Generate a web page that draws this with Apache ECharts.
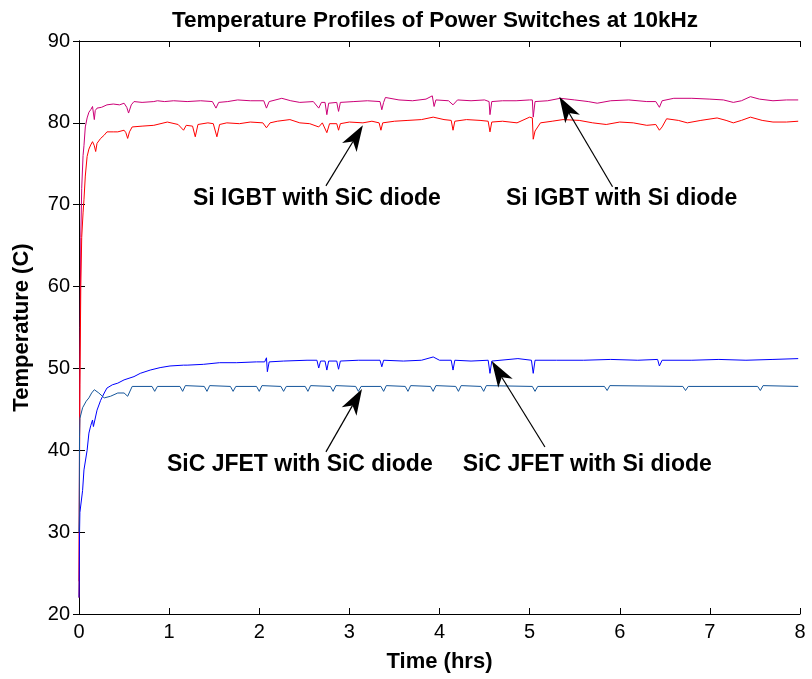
<!DOCTYPE html>
<html><head><meta charset="utf-8">
<script src="https://cdn.jsdelivr.net/npm/echarts@6/dist/echarts.min.js"></script>
<style>html,body{margin:0;padding:0;background:#fff}#c{width:812px;height:679px}</style>
</head><body><div id="c"></div>
<script>
const titleText = 'Temperature Profiles of Power Switches at 10kHz';
const xName = 'Time (hrs)';
const yName = 'Temperature (C)';
const xTicks = [0,1,2,3,4,5,6,7,8];
const yTicks = [20,30,40,50,60,70,80,90];

const seriesNames = ['Si IGBT with Si diode','Si IGBT with SiC diode','SiC JFET with Si diode','SiC JFET with SiC diode'];

const igbtSi = [[0,24],[0.005,40],[0.01,52],[0.02,66],[0.03,72],[0.045,76],[0.055,77.2],[0.07,79.5],[0.09,80.6],[0.11,81.3],[0.13,81.6],[0.15,82],[0.16,81.2],[0.17,80.4],[0.18,81.5],[0.2,81.8],[0.25,81.9],[0.31,82.2],[0.38,82.3],[0.45,82.2],[0.5,82.4],[0.53,81.9],[0.55,81.2],[0.58,82.2],[0.61,82.6],[0.7,82.5],[0.83,82.6],[0.87,82.7],[0.95,82.6],[1.05,82.7],[1.2,82.6],[1.35,82.7],[1.48,82.6],[1.52,81.8],[1.55,82.5],[1.65,82.6],[1.76,82.8],[1.9,82.7],[2.05,82.7],[2.08,81.8],[2.11,82.6],[2.25,83.0],[2.35,82.7],[2.45,82.5],[2.6,82.6],[2.66,81.8],[2.69,82.5],[2.73,82.5],[2.75,81.0],[2.77,82.4],[2.86,82.5],[2.88,81.4],[2.9,82.5],[3.05,82.6],[3.2,82.7],[3.34,82.6],[3.36,81.6],[3.38,82.5],[3.4,83.1],[3.55,82.8],[3.7,82.7],[3.85,82.9],[3.92,83.3],[3.94,82.0],[3.96,82.8],[4.1,82.7],[4.15,82.2],[4.2,82.8],[4.35,82.7],[4.5,82.8],[4.55,82.6],[4.56,81.0],[4.58,82.6],[4.7,82.7],[4.85,82.7],[5.0,82.8],[5.03,82.8],[5.04,80.7],[5.06,82.6],[5.2,82.7],[5.34,83.0],[5.5,82.8],[5.65,82.6],[5.75,82.4],[5.9,82.7],[6.1,82.8],[6.3,82.6],[6.4,82.6],[6.44,81.9],[6.47,82.7],[6.6,83.0],[6.8,83.0],[7.0,82.9],[7.15,82.8],[7.26,82.5],[7.35,82.7],[7.45,83.2],[7.55,82.9],[7.7,82.7],[7.85,82.8],[7.98,82.8]];

const igbtSiC = [[0,22],[0.005,35],[0.01,48],[0.02,60],[0.03,66],[0.045,69],[0.055,70.6],[0.07,73.5],[0.09,75.9],[0.11,76.8],[0.13,77.3],[0.15,77.7],[0.17,77.2],[0.185,76.5],[0.2,77.5],[0.24,78.1],[0.28,78.5],[0.31,78.9],[0.38,78.9],[0.43,78.9],[0.5,79.1],[0.52,78.8],[0.54,78.1],[0.56,78.9],[0.59,79.5],[0.7,79.6],[0.83,79.7],[0.98,80.1],[1.1,79.8],[1.16,79.1],[1.19,79.7],[1.26,79.6],[1.29,78.3],[1.32,79.8],[1.43,80.0],[1.49,79.9],[1.53,78.3],[1.56,79.8],[1.64,80.0],[1.78,79.9],[1.9,80.1],[2.04,80.0],[2.08,79.4],[2.12,80.0],[2.2,80.2],[2.34,80.4],[2.45,80.0],[2.56,79.9],[2.66,79.5],[2.7,80.0],[2.75,78.8],[2.78,79.9],[2.86,79.9],[2.88,79.1],[2.9,79.9],[3.0,80.1],[3.15,80.0],[3.25,80.2],[3.33,80.0],[3.35,79.1],[3.37,80.0],[3.5,80.2],[3.65,80.3],[3.8,80.4],[3.93,80.7],[4.05,80.4],[4.13,80.3],[4.15,79.1],[4.17,80.2],[4.3,80.4],[4.45,80.3],[4.54,80.2],[4.56,78.9],[4.58,80.1],[4.7,80.2],[4.86,80.0],[5.0,80.7],[5.03,80.6],[5.04,78.0],[5.06,79.0],[5.12,80.0],[5.25,80.2],[5.37,80.4],[5.55,80.3],[5.7,80.0],[5.85,79.8],[6.0,80.1],[6.15,80.0],[6.3,79.7],[6.4,79.8],[6.44,79.1],[6.47,79.5],[6.52,80.5],[6.65,80.3],[6.75,80.0],[6.9,80.3],[7.08,80.6],[7.18,80.3],[7.26,80.0],[7.35,80.3],[7.45,80.7],[7.58,80.3],[7.7,80.1],[7.85,80.1],[7.98,80.2]];

const jfetSi = [[0,22],[0.003,24.4],[0.006,30],[0.01,32.4],[0.04,35.1],[0.055,37.6],[0.09,40],[0.11,42.1],[0.13,43.0],[0.15,43.7],[0.16,42.9],[0.2,44.9],[0.24,46.1],[0.28,47],[0.31,47.6],[0.37,48.0],[0.43,48.2],[0.5,48.6],[0.61,49.0],[0.68,49.4],[0.79,49.8],[0.9,50.1],[1.01,50.3],[1.16,50.4],[1.2,50.4],[1.38,50.5],[1.56,50.7],[1.75,50.7],[1.97,50.8],[2.06,50.8],[2.08,51.3],[2.09,49.6],[2.11,50.8],[2.27,50.9],[2.53,51.0],[2.64,51.0],[2.66,50.05],[2.68,50.9],[2.73,50.9],[2.75,49.8],[2.77,50.9],[2.86,50.9],[2.88,49.9],[2.9,50.9],[3.1,51.0],[3.34,51.0],[3.36,50.2],[3.38,51.0],[3.6,50.9],[3.8,51.0],[3.93,51.4],[4.0,51.0],[4.13,51.0],[4.15,49.8],[4.17,51.0],[4.35,50.9],[4.54,51.0],[4.56,49.4],[4.58,50.9],[4.87,51.2],[5.02,51.0],[5.04,49.4],[5.06,51.0],[5.3,51.0],[5.6,51.0],[5.9,51.1],[6.2,51.0],[6.42,51.1],[6.44,50.3],[6.47,51.0],[6.8,51.0],[7.1,51.1],[7.4,51.0],[7.7,51.1],[7.98,51.2]];

const jfetSiC = [[0,30],[0.003,32],[0.006,41.7],[0.01,43.9],[0.04,45.2],[0.08,46.0],[0.11,46.4],[0.14,47.0],[0.17,47.4],[0.22,47.0],[0.28,46.4],[0.35,46.6],[0.43,47.0],[0.5,47.0],[0.54,46.6],[0.59,47.8],[0.81,47.8],[0.84,47.2],[0.87,47.8],[1.12,47.8],[1.15,47.2],[1.18,47.9],[1.39,47.8],[1.42,47.2],[1.45,47.9],[1.68,47.8],[1.71,47.2],[1.74,47.8],[1.97,47.8],[2.0,47.2],[2.03,47.9],[2.24,47.8],[2.27,47.2],[2.3,47.8],[2.51,47.8],[2.54,47.2],[2.57,47.9],[2.79,47.8],[2.82,47.2],[2.85,47.9],[3.07,47.8],[3.1,47.2],[3.13,47.8],[3.35,47.8],[3.38,47.2],[3.41,47.9],[3.62,47.8],[3.65,47.2],[3.68,47.9],[3.9,47.8],[3.93,47.2],[3.96,47.9],[4.18,47.8],[4.21,47.2],[4.24,47.9],[4.46,47.8],[4.49,47.2],[4.52,47.9],[5.03,47.8],[5.06,47.2],[5.09,47.8],[5.83,47.8],[5.86,47.3],[5.89,47.9],[6.7,47.8],[6.73,47.3],[6.76,47.8],[7.53,47.8],[7.56,47.3],[7.59,47.9],[7.98,47.8]];

const seriesData = [igbtSi, igbtSiC, jfetSi, jfetSiC];
const seriesColors = ['#cc0077','#ff0000','#0000ff','#14559a'];

// annotation label positions [t, temp] and arrows tail->tip in data units
const labelTexts = ['Si IGBT with SiC diode','Si IGBT with Si diode','SiC JFET with SiC diode','SiC JFET with Si diode'];
const labelPos = [[2.64,70.7],[6.02,70.7],[2.45,38.3],[5.64,38.3]];
const arrowTails = [[2.74,72.3],[5.92,72.2],[2.74,39.8],[5.17,40.4]];
const arrowTips = [[3.15,79.7],[5.33,83.2],[3.14,47.5],[4.58,50.9]];

const FONT = '"Liberation Sans", Arial, Helvetica, sans-serif';
const chart = echarts.init(document.getElementById('c'), null, {renderer:'canvas'});

const baseAxis = {
  axisLine:{show:true, lineStyle:{color:'#000', width:1}},
  axisTick:{show:true, inside:true, length:6, lineStyle:{color:'#000'}},
  splitLine:{show:false}
};

const series = seriesData.map((d,i)=>({
  name: seriesNames[i], type:'line', data:d, showSymbol:false, symbol:'none',
  lineStyle:{color:seriesColors[i], width:1}, itemStyle:{color:seriesColors[i]},
  z: 3
}));

chart.setOption({
  animation:false,
  backgroundColor:'#fff',
  title:{text:titleText, left:430, top:4, textAlign:'center',
    textStyle:{fontFamily:FONT, fontSize:22.5, fontWeight:'bold', color:'#000'}},
  grid:{left:79, right:12, top:41, bottom:65, containLabel:false},
  xAxis:[
    Object.assign({}, baseAxis, {type:'value', min:0, max:8, interval:1, position:'bottom',
      name:xName, nameLocation:'middle', nameGap:37,
      nameTextStyle:{fontFamily:FONT, fontSize:22, fontWeight:'bold', color:'#000'},
      axisLabel:{fontFamily:FONT, fontSize:20, color:'#000', margin:8,
        formatter:(v)=> xTicks.indexOf(v)>=0 ? String(v) : ''}}),
    Object.assign({}, baseAxis, {type:'value', min:0, max:8, interval:1, position:'top',
      axisLabel:{show:false}})
  ],
  yAxis:[
    Object.assign({}, baseAxis, {type:'value', min:20, max:90, interval:10, position:'left',
      name:yName, nameLocation:'middle', nameGap:46, nameRotate:90,
      nameTextStyle:{fontFamily:FONT, fontSize:22, fontWeight:'bold', color:'#000'},
      axisLabel:{fontFamily:FONT, fontSize:20, color:'#000', margin:9,
        formatter:(v)=> yTicks.indexOf(v)>=0 ? String(v) : ''}}),
    Object.assign({}, baseAxis, {type:'value', min:20, max:90, interval:10, position:'right',
      axisLabel:{show:false}})
  ],
  series: series
});

const px = (p)=> chart.convertToPixel({xAxisIndex:0, yAxisIndex:0}, p);
const graphics = [];
labelTexts.forEach((t,i)=>{
  const p = px(labelPos[i]);
  graphics.push({type:'text', x:p[0], y:p[1], z:10,
    style:{text:t, fontFamily:FONT, fontSize:23, fontWeight:'bold', fill:'#000',
      align:'center', verticalAlign:'middle'}});
});
arrowTails.forEach((tl,i)=>{
  const a = px(tl), b = px(arrowTips[i]);
  const dx = b[0]-a[0], dy = b[1]-a[1], L = Math.hypot(dx,dy);
  const ux = dx/L, uy = dy/L, nx = -uy, ny = ux;
  const len = 26, hw = 8.5, notch = 19;
  const back = [b[0]-ux*len, b[1]-uy*len];
  const nb = [b[0]-ux*notch, b[1]-uy*notch];
  graphics.push({type:'line', z:9, shape:{x1:a[0], y1:a[1], x2:nb[0], y2:nb[1]},
    style:{stroke:'#000', lineWidth:1.2}});
  graphics.push({type:'polygon', z:9, shape:{points:[
      b, [back[0]+nx*hw, back[1]+ny*hw], nb, [back[0]-nx*hw, back[1]-ny*hw]]},
    style:{fill:'#000'}});
});
chart.setOption({graphic:graphics});
</script>
</body></html>
